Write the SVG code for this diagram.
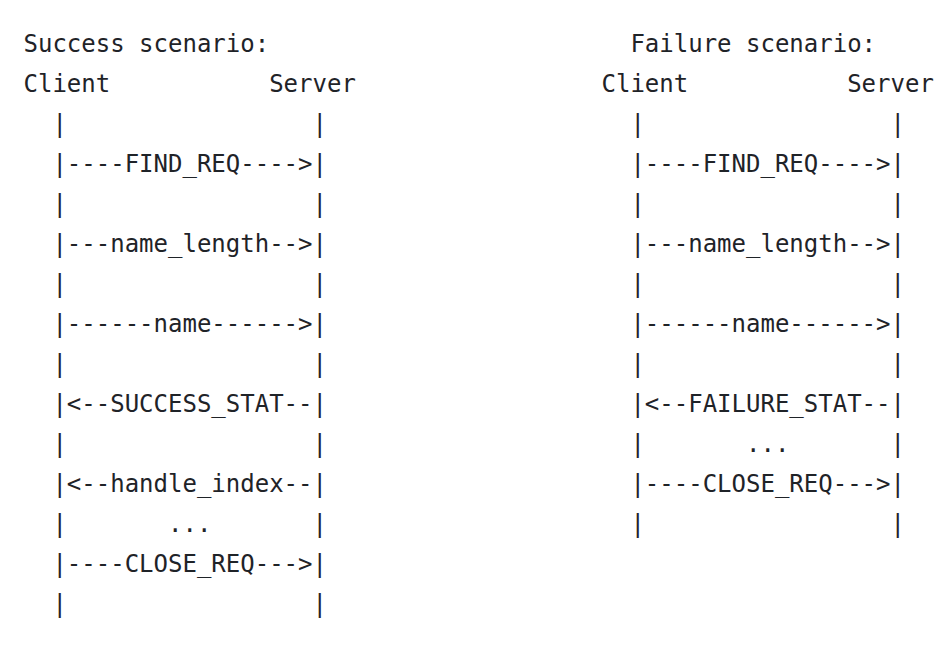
<svg xmlns="http://www.w3.org/2000/svg" width="944" height="658" viewBox="0 0 944 658">
<style>
text{font-family:"DejaVu Sans Mono","Liberation Mono",monospace;font-size:24px;fill:#1f2328;white-space:pre}
</style>
<rect width="944" height="658" fill="#ffffff"/>
<g id="success" transform="translate(23.5,0)">
<text x="0" y="52">Success scenario:</text>
<text x="0" y="92">Client           Server</text>
<text x="0" y="132">  |                 |</text>
<text x="0" y="172">  |----FIND_REQ----&gt;|</text>
<text x="0" y="212">  |                 |</text>
<text x="0" y="252">  |---name_length--&gt;|</text>
<text x="0" y="292">  |                 |</text>
<text x="0" y="332">  |------name------&gt;|</text>
<text x="0" y="372">  |                 |</text>
<text x="0" y="412">  |&lt;--SUCCESS_STAT--|</text>
<text x="0" y="452">  |                 |</text>
<text x="0" y="492">  |&lt;--handle_index--|</text>
<text x="0" y="532">  |       ...       |</text>
<text x="0" y="572">  |----CLOSE_REQ---&gt;|</text>
<text x="0" y="612">  |                 |</text>
</g>
<g id="failure" transform="translate(601.5,0)">
<text x="0" y="52">  Failure scenario:</text>
<text x="0" y="92">Client           Server</text>
<text x="0" y="132">  |                 |</text>
<text x="0" y="172">  |----FIND_REQ----&gt;|</text>
<text x="0" y="212">  |                 |</text>
<text x="0" y="252">  |---name_length--&gt;|</text>
<text x="0" y="292">  |                 |</text>
<text x="0" y="332">  |------name------&gt;|</text>
<text x="0" y="372">  |                 |</text>
<text x="0" y="412">  |&lt;--FAILURE_STAT--|</text>
<text x="0" y="452">  |       ...       |</text>
<text x="0" y="492">  |----CLOSE_REQ---&gt;|</text>
<text x="0" y="532">  |                 |</text>
</g>
</svg>
